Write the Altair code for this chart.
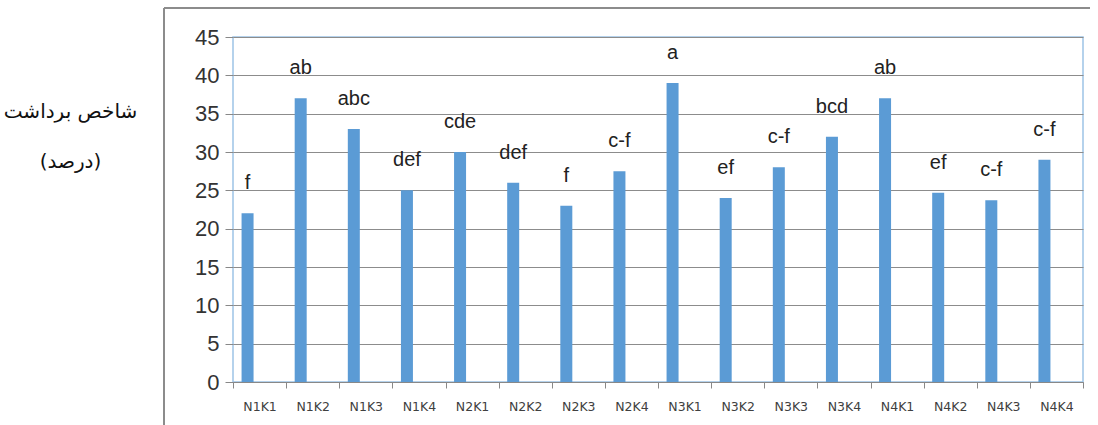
import altair as alt
import pandas as pd

# Treatments (N level x K level) and harvest index values (%)
treatments = ["N1K1", "N1K2", "N1K3", "N1K4",
              "N2K1", "N2K2", "N2K3", "N2K4",
              "N3K1", "N3K2", "N3K3", "N3K4",
              "N4K1", "N4K2", "N4K3", "N4K4"]
harvest_index = [22, 37, 33, 25,
                 30, 26, 23, 27.5,
                 39, 24, 28, 32,
                 37, 24.7, 23.7, 29]
# Mean-separation letters
letters = ["f", "ab", "abc", "def",
           "cde", "def", "f", "c-f",
           "a", "ef", "c-f", "bcd",
           "ab", "ef", "c-f", "c-f"]
y_ticks = [0, 5, 10, 15, 20, 25, 30, 35, 40, 45]

df = pd.DataFrame({"treatment": treatments, "hi": harvest_index, "letter": letters})

PLOT_W, PLOT_H = 850, 345
BAR_SHIFT = -12

x_enc = alt.X(
    "treatment:N", sort=treatments, title=None,
    scale=alt.Scale(paddingInner=0, paddingOuter=0),
    axis=alt.Axis(labelAngle=0, labelFont="DejaVu Sans", labelFontSize=12.5,
                  labelColor="#404040", labelPadding=12, tickBand="extent",
                  tickSize=6, tickColor="#888888", domainColor="#888888",
                  grid=False),
)
y_enc = alt.Y(
    "hi:Q",
    scale=alt.Scale(domain=[0, 45], nice=False),
    axis=alt.Axis(values=y_ticks, labelOverlap=False, labelFont="Liberation Sans",
                  labelFontSize=22, labelColor="#333333", labelPadding=6,
                  tickSize=8, tickColor="#888888", domain=False,
                  gridColor="#8c8c8c", gridWidth=1,
                  title=["شاخص برداشت", "(درصد)"], titleAngle=0,
                  titleAlign="center", titleBaseline="middle",
                  titleX=-163, titleY=74, titleLineHeight=50,
                  titleFont="DejaVu Sans", titleFontSize=20,
                  titleFontWeight="normal", titleColor="#111111"),
)

bars = alt.Chart(df).mark_bar(size=12, color="#5B9BD5", xOffset=BAR_SHIFT).encode(
    x=x_enc, y=y_enc
)

labels = alt.Chart(df).mark_text(
    dx=BAR_SHIFT, dy=-20, baseline="bottom", align="center",
    font="Liberation Sans", fontSize=20, color="#222222"
).encode(x=x_enc, y=y_enc, text="letter:N")

# Outer frame (left and top edges)
frame_left = alt.Chart(df).mark_rule(color="#8c8c8c", strokeWidth=1.5).encode(
    x=alt.value(-69), y=alt.value(-29), y2=alt.value(PLOT_H + 50)
)
frame_top = alt.Chart(df).mark_rule(color="#8c8c8c", strokeWidth=1.5).encode(
    x=alt.value(-69), x2=alt.value(857), y=alt.value(-29)
)

chart = alt.layer(frame_left, frame_top, bars, labels).properties(
    width=PLOT_W, height=PLOT_H,
    autosize=alt.AutoSizeParams(type="none"),
    padding={"left": 233, "top": 37, "right": 15, "bottom": 43},
    background="white",
).configure_view(stroke="#9DC3E6", strokeWidth=1.5)

chart.save("out.html", embed_options={"renderer": "svg", "actions": False})
